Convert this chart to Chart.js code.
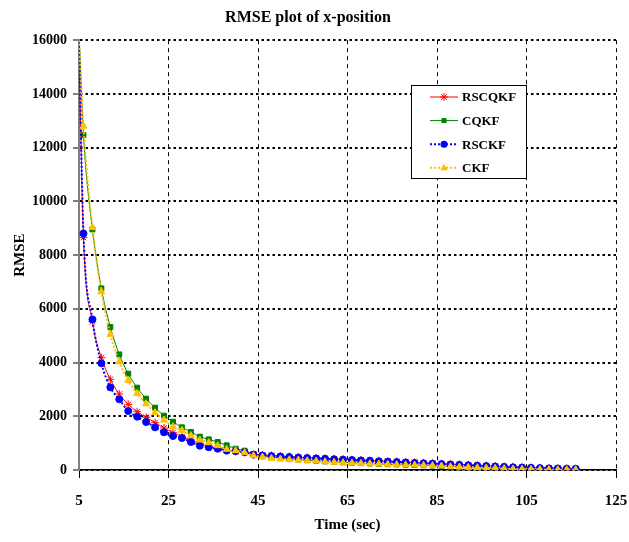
<!DOCTYPE html>
<html>
<head>
<meta charset="utf-8">
<script src="https://cdn.jsdelivr.net/npm/chart.js@4.4.1/dist/chart.umd.min.js"></script>
<style>
  body { margin: 0; background: #fff; }
  #wrap { width: 629px; height: 542px; }
</style>
</head>
<body>
<div id="wrap"><canvas id="c" width="629" height="542"></canvas></div>
<script>
// time axis (sec)
var times = [5, 6, 8, 10, 12, 14, 16, 18, 20, 22, 24, 26, 28, 30, 32, 34, 36, 38, 40, 42, 44,
	46, 48, 50, 52, 54, 56, 58, 60, 62, 64, 66, 68, 70, 72, 74, 76, 78, 80,
	82, 84, 86, 88, 90, 92, 94, 96, 98, 100, 102, 104, 106, 108, 110, 112, 114, 116];

var rscqkf = [15500, 8658, 5519, 4180, 3375, 2828, 2444, 2170, 1960, 1761, 1563, 1389, 1240, 1116, 992, 868, 806, 744, 719, 658, 583,
	560, 540, 520, 500, 480, 460, 445, 430, 415, 400, 385, 370, 355, 340, 325, 310, 295, 280,
	265, 250, 235, 220, 205, 190, 175, 160, 145, 130, 115, 100, 90, 80, 70, 62, 55, 50];

var cqkf = [16300, 12465, 8955, 6761, 5321, 4304, 3585, 3064, 2654, 2319, 2021, 1798, 1588, 1414, 1240, 1141, 1042, 918, 793, 719, 595,
	530, 480, 440, 410, 390, 365, 345, 320, 300, 285, 270, 255, 240, 228, 215, 205, 195, 185,
	175, 165, 150, 130, 115, 100, 88, 76, 64, 52, 42, 32, 27, 22, 16, 13, 11, 10];

var rsckf = [15800, 8807, 5607, 3970, 3077, 2630, 2195, 1985, 1786, 1588, 1402, 1265, 1190, 1042, 905, 845, 793, 719, 697, 658, 570,
	540, 520, 500, 480, 460, 445, 430, 415, 400, 385, 370, 355, 340, 325, 310, 295, 280, 265,
	250, 235, 220, 205, 190, 175, 160, 145, 130, 115, 100, 90, 80, 70, 60, 55, 50, 45];

var ckf = [16000, 12800, 9030, 6635, 5049, 4030, 3338, 2853, 2467, 2133, 1860, 1611, 1477, 1277, 1116, 1017, 905, 770, 719, 645, 533,
	484, 435, 409, 383, 372, 346, 335, 309, 285, 272, 260, 249, 235, 223, 212, 200, 190, 185,
	175, 165, 149, 125, 112, 100, 86, 74, 63, 50, 40, 30, 26, 22, 15, 12, 10, 10];

var seriesNames = ['RSCQKF', 'CQKF', 'RSCKF', 'CKF'];
var yTicksMin = 0, yTicksMax = 16000, yStep = 2000;
var xTicksMin = 5, xTicksMax = 125, xStep = 20;

var FONT = "'Liberation Serif', 'Times New Roman', serif";

function pts(vals) {
	return times.map(function(t, i) { return { x: t, y: vals[i] }; });
}

var styles = [
	{ color: '#ff0000', width: 1, dash: [], marker: 'star', radius: 4, order: 2 },
	{ color: '#008000', width: 1, dash: [], marker: 'rect', radius: 3.5, order: 3 },
	{ color: '#0000ff', width: 2, dash: [2, 2], marker: 'circle', radius: 3.5, order: 1 },
	{ color: '#ffc000', width: 2, dash: [2, 2], marker: 'triangle', radius: 4, order: 0 }
];
var allSeries = [rscqkf, cqkf, rsckf, ckf];

function drawMarker(ctx, style, x, y, r) {
	ctx.save();
	ctx.setLineDash([]);
	ctx.fillStyle = style.color;
	ctx.strokeStyle = style.color;
	ctx.lineWidth = 1;
	ctx.beginPath();
	if (style.marker === 'circle') {
		ctx.arc(x, y, r, 0, Math.PI * 2);
		ctx.fill();
	} else if (style.marker === 'rect') {
		var s = r * Math.SQRT1_2;
		ctx.fillRect(x - s, y - s, 2 * s, 2 * s);
	} else if (style.marker === 'triangle') {
		ctx.moveTo(x, y - r);
		ctx.lineTo(x + r * 0.95, y + r * 0.6);
		ctx.lineTo(x - r * 0.95, y + r * 0.6);
		ctx.closePath();
		ctx.fill();
	} else {
		for (var a = 0; a < 4; a++) {
			var ang = a * Math.PI / 4;
			ctx.moveTo(x - Math.cos(ang) * r, y - Math.sin(ang) * r);
			ctx.lineTo(x + Math.cos(ang) * r, y + Math.sin(ang) * r);
		}
		ctx.stroke();
	}
	ctx.restore();
}

// legend box drawn inside the plot (upper right)
var legendBox = {
	id: 'legendBox',
	afterDraw: function(chart) {
		var ctx = chart.ctx;
		var bx = 411, by = 85, bw = 115, bh = 93;
		ctx.save();
		ctx.fillStyle = '#fff';
		ctx.fillRect(bx, by, bw, bh);
		ctx.strokeStyle = '#000';
		ctx.lineWidth = 1;
		ctx.strokeRect(bx + 0.5, by + 0.5, bw, bh);
		for (var i = 0; i < seriesNames.length; i++) {
			var st = styles[i];
			var y = by + 12 + i * 23.6;
			ctx.save();
			ctx.strokeStyle = st.color;
			ctx.lineWidth = st.width;
			ctx.setLineDash(st.dash);
			ctx.beginPath();
			ctx.moveTo(430, y);
			ctx.lineTo(458, y);
			ctx.stroke();
			ctx.restore();
			drawMarker(ctx, st, 444, y, st.radius);
			ctx.fillStyle = '#000';
			ctx.font = 'bold 13px ' + FONT;
			ctx.textBaseline = 'middle';
			ctx.textAlign = 'left';
			ctx.fillText(seriesNames[i], 462, y + 1);
		}
		ctx.restore();
	}
};

new Chart(document.getElementById('c'), {
	type: 'line',
	data: {
		datasets: allSeries.map(function(vals, i) {
			var st = styles[i];
			return {
				label: seriesNames[i],
				data: pts(vals),
				borderColor: st.color,
				backgroundColor: st.color,
				borderWidth: st.width,
				borderDash: st.dash,
				pointStyle: st.marker,
				pointRadius: times.map(function(t, k) { return k === 0 ? 0 : st.radius; }),
				pointBorderWidth: 1,
				pointBorderColor: st.color,
				pointBackgroundColor: st.color,
				cubicInterpolationMode: 'monotone',
				fill: false,
				order: st.order
			};
		})
	},
	options: {
		responsive: false,
		animation: false,
		layout: { padding: { left: 0, right: 13, top: 0, bottom: 0 } },
		plugins: {
			legend: { display: false },
			tooltip: { enabled: false },
			title: {
				display: true,
				text: 'RMSE plot of x-position',
				color: '#000',
				font: { family: FONT, size: 16, weight: 'bold' },
				padding: { top: 8, bottom: 13 }
			}
		},
		scales: {
			x: {
				type: 'linear',
				min: xTicksMin,
				max: xTicksMax,
				afterFit: function(scale) {
					scale.height = 72;
					scale.paddingLeft = 0;
					scale.paddingRight = 0;
				},
				ticks: {
					stepSize: xStep,
					color: '#000',
					padding: 14,
					maxRotation: 0,
					font: { family: FONT, size: 15, weight: 'bold' }
				},
				grid: {
					color: '#000',
					lineWidth: 1,
					tickLength: 8,
					tickColor: '#000',
					tickWidth: 1
				},
				border: { display: true, color: '#000', width: 1.5, dash: [4, 4] },
				title: {
					display: true,
					text: 'Time (sec)',
					color: '#000',
					font: { family: FONT, size: 15, weight: 'bold' },
					padding: { top: 0, bottom: 8 }
				}
			},
			y: {
				min: yTicksMin,
				max: yTicksMax,
				afterFit: function(scale) { scale.width = 79; },
				ticks: {
					stepSize: yStep,
					color: '#000',
					padding: 6,
					font: { family: FONT, size: 14, weight: 'bold' },
					callback: function(v) { return String(v); }
				},
				grid: {
					color: '#000',
					lineWidth: 2,
					tickLength: 6,
					tickColor: '#000',
					tickWidth: 1
				},
				border: { display: true, color: '#808080', width: 2, dash: [2.5, 3] },
				title: {
					display: true,
					text: 'RMSE',
					color: '#000',
					font: { family: FONT, size: 15, weight: 'bold' },
					padding: { top: 11, bottom: 0 }
				}
			}
		}
	},
	plugins: [legendBox]
});
</script>
</body>
</html>
